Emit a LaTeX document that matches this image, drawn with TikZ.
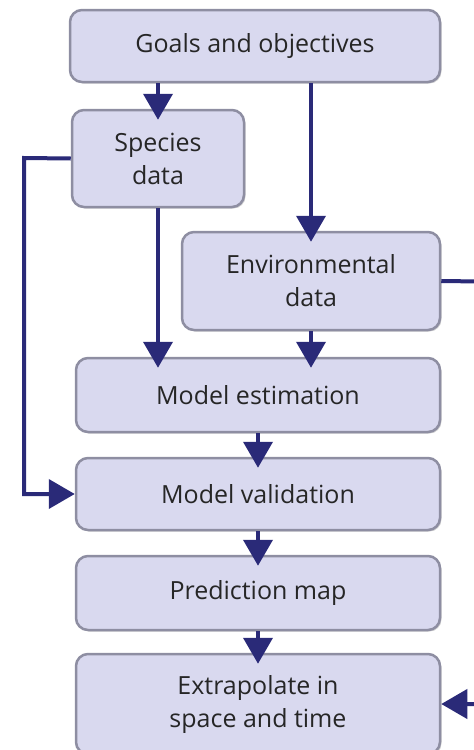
\documentclass[tikz,border=0pt]{standalone}
\usepackage{fontspec}
\setmainfont{Open Sans}
\usetikzlibrary{arrows.meta,shadows}
\definecolor{boxfill}{HTML}{D9D9EF}
\definecolor{boxedge}{HTML}{8E8EA2}
\definecolor{arrowc}{HTML}{2A2A78}
\tikzset{
  stepbox/.style={rectangle, rounded corners=12pt, fill=boxfill, draw=boxedge, line width=2.5pt,
    align=center, font=\fontsize{25}{33}\selectfont, inner sep=0pt, text=black!85,
    drop shadow={shadow xshift=1.5pt, shadow yshift=-1.5pt, opacity=0.35, fill=gray}},
  conn/.style={draw=arrowc, line width=4pt, -{Triangle[width=29pt,length=26pt]}},
  down/.style={conn, shorten >=-11pt}
}
\begin{document}
\begin{tikzpicture}[x=1pt,y=-1pt]
\useasboundingbox (0,0) rectangle (474,750);
\clip (0,0) rectangle (474,750);
\node[stepbox, minimum width=370pt, minimum height=72pt] (g) at (255,46) {Goals and objectives};
\node[stepbox, minimum width=172pt, minimum height=97pt] (sp) at (158,158.5) {Species\\data};
\node[stepbox, minimum width=258pt, minimum height=98pt] (env) at (311,281) {Environmental\\data};
\node[stepbox, minimum width=364pt, minimum height=74pt] (me) at (258,395) {Model estimation};
\node[stepbox, minimum width=364pt, minimum height=72pt] (val) at (258,494) {Model validation};
\node[stepbox, minimum width=364pt, minimum height=74pt] (pm) at (258,593) {Prediction map};
\node[stepbox, minimum width=364pt, minimum height=100pt] (ex) at (258,704) {Extrapolate in\\space and time};
\coordinate (lc) at (24,158);
\coordinate (rc) at (520,282);
\draw[down] (sp.north |- g.south) -- (sp.north);
\draw[down] (env.north |- g.south) -- (env.north);
\draw[down] (sp.south) -- (sp.south |- me.north);
\draw[down] (env.south) -- (env.south |- me.north);
\draw[down] (me.south) -- (val.north);
\draw[down] (val.south) -- (pm.north);
\draw[down] (pm.south) -- (ex.north);
\draw[conn] (sp.west) -- (lc) |- (val.west);
\draw[conn] (env.east) -- (rc) |- (ex.east);
\end{tikzpicture}
\end{document}
